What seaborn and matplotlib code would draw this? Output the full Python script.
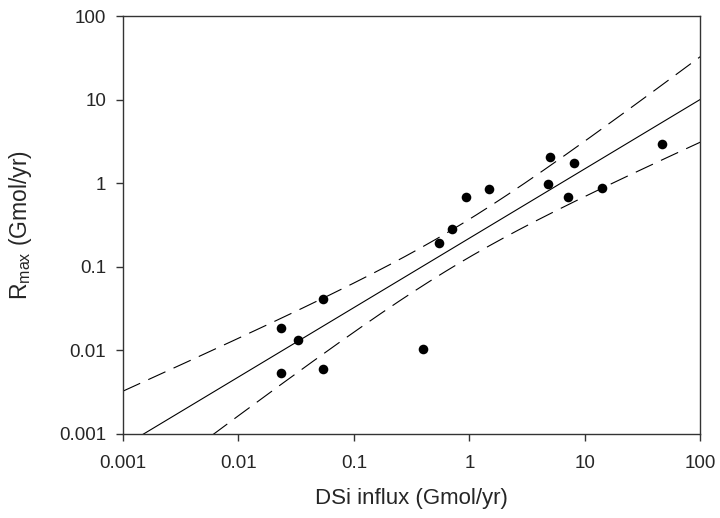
import numpy as np
import pandas as pd
import matplotlib
matplotlib.use("Agg")
import matplotlib.pyplot as plt
import seaborn as sns
from matplotlib.ticker import FixedLocator, FixedFormatter, NullLocator

# ---- data ----
dsi_influx = [0.0232, 0.0232, 0.0326, 0.0542, 0.054, 0.398, 0.545, 0.705,
              0.927, 1.48, 4.95, 4.81, 8.03, 7.17, 14.1, 46.4]
r_max = [0.0183, 0.00537, 0.01324, 0.041, 0.0059, 0.0103, 0.19, 0.283,
         0.678, 0.845, 2.04, 0.97, 1.76, 0.684, 0.869, 2.95]
tick_values = [0.001, 0.01, 0.1, 1, 10, 100]
tick_labels = ["0.001", "0.01", "0.1", "1", "10", "100"]

sns.set_style("ticks")
plt.rcParams["font.family"] = ["Liberation Sans", "DejaVu Sans"]
plt.rcParams["mathtext.fontset"] = "custom"
plt.rcParams["mathtext.rm"] = "Liberation Sans"
plt.rcParams["mathtext.it"] = "Liberation Sans"

df = pd.DataFrame({"x": dsi_influx, "y": r_max})

# log-log OLS regression with 95% confidence band
lx = np.log10(df["x"].to_numpy())
ly = np.log10(df["y"].to_numpy())
n = len(lx)
slope, intercept = np.polyfit(lx, ly, 1)
resid = ly - (intercept + slope * lx)
s = np.sqrt(np.sum(resid ** 2) / (n - 2))
sxx = np.sum((lx - lx.mean()) ** 2)
t_crit = 2.145  # t(0.975, 14)
gx = np.linspace(-3, 2, 300)
gy = intercept + slope * gx
half = t_crit * s * np.sqrt(1.0 / n + (gx - lx.mean()) ** 2 / sxx)
fit = pd.DataFrame({"x": 10 ** gx, "fit": 10 ** gy,
                    "lo": 10 ** (gy - half), "hi": 10 ** (gy + half)})

fig = plt.figure(figsize=(7.2, 5.18), dpi=100)
ax = fig.add_axes([0.1708, 0.1627, 0.802, 0.8063])
ax.set_xscale("log")
ax.set_yscale("log")

sns.lineplot(data=fit, x="x", y="fit", ax=ax, color="black", lw=0.8,
             estimator=None, sort=False)
for col in ["lo", "hi"]:
    sns.lineplot(data=fit, x="x", y=col, ax=ax, color="black", lw=0.8,
                 estimator=None, sort=False, linestyle=(0, (17, 8)))
sns.scatterplot(data=df, x="x", y="y", ax=ax, color="black", s=48,
                edgecolor="black", linewidth=0, zorder=5)

ax.set_xlim(0.001, 100)
ax.set_ylim(0.001, 100)
for axis in (ax.xaxis, ax.yaxis):
    axis.set_major_locator(FixedLocator(tick_values))
    axis.set_major_formatter(FixedFormatter(tick_labels))
    axis.set_minor_locator(NullLocator())

for sp in ax.spines.values():
    sp.set_visible(True)
    sp.set_linewidth(1.0)
    sp.set_color("#333333")
ax.tick_params(axis="both", which="major", direction="out", length=5,
               width=1, color="#333333", labelsize=13.5)
ax.tick_params(axis="y", pad=7)
ax.tick_params(axis="x", pad=10)

ax.set_xlabel("DSi influx (Gmol/yr)", fontsize=16)
ax.set_ylabel(r"R$_{\mathrm{max}}$ (Gmol/yr)", fontsize=16.5)
ax.xaxis.set_label_coords(0.5, -0.154)
ax.xaxis.label.set_verticalalignment("center")
ax.yaxis.set_label_coords(-0.178, 0.5)
ax.yaxis.label.set_verticalalignment("center")

fig.savefig("out.png", dpi=100, facecolor="white")
